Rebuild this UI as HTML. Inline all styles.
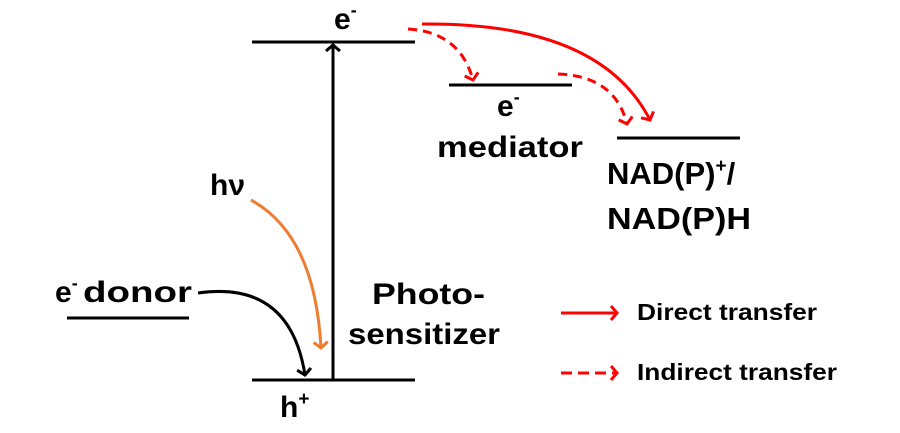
<!DOCTYPE html>
<html><head><meta charset="utf-8"><style>
body{margin:0;background:#fff}
svg text{font-family:"Liberation Sans",Arial,sans-serif;font-weight:bold;fill:#000}
</style></head><body>
<svg width="900" height="428" viewBox="0 0 900 428" xmlns="http://www.w3.org/2000/svg">
<defs>
<marker id="ar" markerWidth="14" markerHeight="16" refX="7" refY="8" orient="auto" markerUnits="userSpaceOnUse"><path d="M1,1 L7,8 L1,15" fill="none" stroke="red" stroke-width="3"/></marker>
<marker id="ab" markerWidth="14" markerHeight="16" refX="7" refY="8" orient="auto" markerUnits="userSpaceOnUse"><path d="M1,1 L7,8 L1,15" fill="none" stroke="#000" stroke-width="3"/></marker>
<marker id="ao" markerWidth="14" markerHeight="16" refX="7" refY="8" orient="auto" markerUnits="userSpaceOnUse"><path d="M1,1 L7,8 L1,15" fill="none" stroke="#ed7d31" stroke-width="3"/></marker>
</defs>
<g stroke="#000" stroke-width="3">
<line x1="252" y1="42" x2="415" y2="42"/>
<line x1="252" y1="380" x2="415" y2="380"/>
<line x1="449" y1="85" x2="572" y2="85"/>
<line x1="617" y1="138" x2="740" y2="138"/>
<line x1="67" y1="318" x2="189" y2="318"/>
</g>
<line x1="333" y1="380" x2="333" y2="45" stroke="#000" stroke-width="3" marker-end="url(#ab)"/>
<path d="M422,24 Q600,22 650,120" fill="none" stroke="red" stroke-width="3" marker-end="url(#ar)"/>
<path d="M408,29 Q460,32 473,80" fill="none" stroke="red" stroke-width="3" stroke-dasharray="9,6" marker-end="url(#ar)"/>
<path d="M558,74 Q615,76 627,124" fill="none" stroke="red" stroke-width="3" stroke-dasharray="9,6" marker-end="url(#ar)"/>
<path d="M251,200 Q315,235 321,348" fill="none" stroke="#ed7d31" stroke-width="3" marker-end="url(#ao)"/>
<path d="M198,293 Q290,280 305,375" fill="none" stroke="#000" stroke-width="3" marker-end="url(#ab)"/>
<line x1="561" y1="313" x2="617" y2="313" stroke="red" stroke-width="3" marker-end="url(#ar)"/>
<line x1="561" y1="373" x2="617" y2="373" stroke="red" stroke-width="3" stroke-dasharray="11,6" marker-end="url(#ar)"/>
<text x="334" y="29" font-size="30">e<tspan font-size="18" dy="-13">-</tspan></text>
<text x="497" y="116" font-size="30">e<tspan font-size="18" dy="-13">-</tspan></text>
<text x="437" y="157" font-size="30" textLength="146" lengthAdjust="spacingAndGlyphs">mediator</text>
<text x="607" y="184" font-size="31">NAD(P)<tspan font-size="19" dy="-12">+</tspan><tspan dy="12">/</tspan></text>
<text x="607" y="229" font-size="31" textLength="144" lengthAdjust="spacingAndGlyphs">NAD(P)H</text>
<text x="210" y="195" font-size="30">hν</text>
<text x="55" y="302" font-size="30">e<tspan font-size="18" dy="-13">-</tspan></text>
<text x="83" y="302" font-size="30" textLength="109" lengthAdjust="spacingAndGlyphs">donor</text>
<text x="372" y="304" font-size="30" textLength="113" lengthAdjust="spacingAndGlyphs">Photo-</text>
<text x="348" y="344" font-size="30" textLength="152" lengthAdjust="spacingAndGlyphs">sensitizer</text>
<text x="280" y="417" font-size="30">h<tspan font-size="19" dy="-12">+</tspan></text>
<text x="637" y="320" font-size="23" textLength="180" lengthAdjust="spacingAndGlyphs">Direct transfer</text>
<text x="637" y="380" font-size="23" textLength="200" lengthAdjust="spacingAndGlyphs">Indirect transfer</text>
</svg>
</body></html>
